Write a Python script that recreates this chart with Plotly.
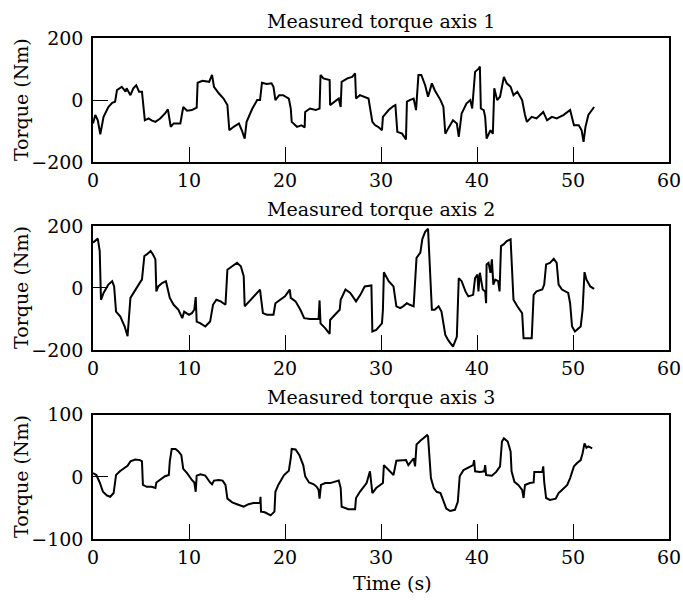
import plotly.graph_objects as go

# ---------------- data ----------------
t1 = [0, 0.24, 0.5, 0.76, 1.1, 1.6, 2.0, 2.3, 2.5, 2.85, 3.0, 3.4, 3.5, 3.9, 4.2, 4.5, 4.8, 5.1, 5.4, 5.8,
      6.1, 6.5, 7.0, 7.5, 7.8, 8.1, 8.4, 9.1, 9.3, 9.4, 9.8, 10.3, 10.8, 10.9, 11.4, 12.1, 12.4, 12.6, 13.1, 13.6,
      14.0, 14.2, 14.65, 15.2, 15.5, 15.8, 16.0, 16.6, 17.1, 17.4, 17.6, 18.1, 18.6, 18.8, 19.0, 19.4, 19.8, 20.4, 20.6, 20.7,
      21.25, 21.7, 22.05, 22.1, 22.6, 23.2, 23.6, 23.7, 24.0, 24.65, 24.7, 25.2, 25.6, 25.8, 25.9, 26.5, 27.0, 27.3, 27.4, 27.8,
      28.7, 29.1, 29.4, 29.7, 30.1, 30.2, 30.8, 31.3, 31.5, 31.7, 32.2, 32.6, 32.7, 33.0, 33.4, 33.65, 33.9, 34.2, 34.6, 34.9,
      35.3, 35.6, 36.2, 36.5, 36.7, 37.0, 37.5, 37.9, 38.1, 38.4, 38.9, 39.3, 39.5, 39.8, 40.2, 40.3, 40.4, 40.7, 40.85, 41.0,
      41.4, 41.65, 41.8, 42.1, 42.4, 42.8, 43.1, 43.5, 43.8, 44.2, 44.7, 45.0, 45.2, 45.7, 46.2, 46.9, 47.3, 47.8, 48.3, 49.0,
      49.7, 50.1, 50.6, 50.9, 51.1, 51.3, 51.6, 52.2]
v1 = [-75, -48, -65, -110, -54, -22, -9, -5, 32, 38, 43, 27, 38, 16, 38, 48, 27, 27, -65, -59,
      -65, -70, -59, -43, -30, -86, -75, -75, -43, -22, -34, -32, -24, 56, 62, 59, 81, 43, 22, 5,
      -16, -97, -86, -75, -97, -124, -70, -27, 0, 0, 56, 52, 54, 43, 0, 16, 16, 5, -27, -70,
      -86, -81, -88, -38, -27, -32, -27, 81, 70, 65, -16, -5, 5, -22, 59, 70, 75, 86, 5, 16,
      5, -70, -81, -86, -97, -54, -32, -19, -16, -102, -108, -127, -5, 0, 5, -32, 81, 81, 48, 11,
      54, 32, 0, -22, -108, -91, -65, -75, -118, -43, -11, 0, -27, 91, 102, 108, -27, -32, -54, -124,
      -97, -108, 38, 0, 11, 75, 54, 43, 16, 27, 0, -48, -70, -54, -59, -38, -65, -54, -59, -48,
      -32, -81, -81, -97, -134, -86, -48, -22]

t2 = [0, 0.24, 0.5, 0.7, 0.83, 1.1, 1.6, 2.0, 2.2, 2.4, 2.85, 3.3, 3.6, 3.9, 4.4, 4.9, 5.1, 5.35, 5.6, 6.0,
      6.25, 6.5, 6.6, 6.8, 7.2, 7.6, 8.0, 8.4, 8.9, 9.3, 9.5, 10.0, 10.3, 10.55, 10.7, 10.8, 11.2, 11.7, 12.2, 12.5,
      12.85, 13.3, 13.8, 14.0, 14.5, 15.0, 15.4, 15.7, 15.8, 16.4, 16.9, 17.4, 17.5, 17.7, 18.1, 18.8, 19.0, 19.5, 20.0, 20.5,
      20.6, 21.1, 21.6, 22.0, 22.6, 23.5, 23.6, 23.7, 24.2, 24.65, 24.7, 25.2, 25.7, 25.8, 26.3, 26.8, 27.4, 27.85, 28.3, 29.0,
      29.1, 29.5, 30.1, 30.2, 30.3, 30.8, 31.1, 31.3, 31.6, 32.0, 32.3, 32.7, 33.0, 33.4, 33.7, 34.1, 34.3, 34.6, 34.9, 35.1,
      35.3, 35.6, 36.0, 36.3, 36.7, 37.0, 37.5, 37.9, 38.1, 38.4, 38.8, 39.1, 39.6, 39.8, 40.05, 40.15, 40.3, 40.6, 40.85, 40.95,
      41.0, 41.2, 41.4, 41.55, 41.7, 41.9, 42.2, 42.35, 42.5, 42.8, 43.1, 43.5, 43.6, 43.8, 44.2, 44.7, 44.85, 45.2, 45.7, 45.9,
      46.2, 46.8, 47.0, 47.2, 47.6, 48.0, 48.3, 48.5, 48.85, 49.5, 49.7, 49.9, 50.2, 50.8, 51.0, 51.2, 51.4, 51.8, 52.2]
v2 = [146, 151, 159, 119, -38, -16, 11, 22, 5, -76, -92, -124, -155, -32, -5, 18, 27, 103, 108, 119,
      108, 92, -11, 5, 16, 22, -32, -54, -70, -97, -76, -86, -81, -70, -29, -108, -114, -124, -108, -54,
      -38, -43, -54, 59, 70, 81, 70, 38, -59, -38, -22, -5, -32, -81, -86, -86, -49, -38, -27, -5,
      -32, -43, -70, -97, -100, -100, -40, -114, -130, -148, -103, -86, -70, -38, -5, -16, -43, -22, 5, 8,
      -140, -135, -114, -70, 51, 22, 11, 5, -59, -65, -59, -49, -54, -59, 97, 114, 157, 181, 191, 59,
      -70, -70, -59, -76, -151, -168, -189, -157, 32, 22, -11, -27, -22, 32, 43, -11, 49, -5, -11, -49,
      76, 81, 49, 92, 11, 27, 22, -11, 135, 141, 151, 157, 92, -38, -59, -81, -162, -162, -162, -22,
      -11, -5, 11, 76, 81, 94, 81, 11, -5, -16, -49, -124, -140, -124, -70, 51, 27, 5, -3]

t3 = [0, 0.35, 0.7, 1.04, 1.46, 1.8, 2.15, 2.4, 2.8, 3.2, 3.6, 3.9, 4.4, 4.9, 5.1, 5.2, 5.6, 6.1, 6.5, 6.6,
      7.0, 7.5, 7.9, 8.0, 8.2, 8.6, 8.9, 9.2, 9.4, 9.8, 10.3, 10.55, 10.7, 10.8, 11.2, 11.7, 12.2, 12.4, 12.6, 13.1,
      13.5, 13.8, 14.0, 14.5, 15.0, 15.7, 16.2, 16.7, 17.4, 17.45, 17.5, 17.9, 18.5, 18.9, 19.0, 19.3, 19.9, 20.4, 20.6, 20.7,
      21.1, 21.5, 21.9, 22.1, 22.5, 23.0, 23.3, 23.5, 23.6, 23.75, 24.2, 24.7, 25.6, 25.8, 25.9, 26.6, 27.3, 27.4, 27.8, 28.5,
      28.85, 29.1, 29.5, 29.9, 30.2, 30.3, 30.8, 31.3, 31.6, 32.2, 32.6, 32.85, 33.2, 33.4, 33.55, 33.7, 34.1, 34.4, 34.8, 34.9,
      35.2, 35.5, 35.8, 36.2, 36.5, 36.8, 37.2, 37.7, 38.0, 38.2, 38.6, 39.3, 39.6, 39.7, 39.8, 40.3, 40.75, 40.85, 40.95, 41.55,
      42.0, 42.4, 42.6, 42.8, 43.2, 43.5, 43.6, 43.9, 44.3, 44.7, 44.85, 45.0, 45.5, 45.9, 45.97, 46.2, 46.8, 46.9, 47.0, 47.2,
      47.6, 48.2, 48.5, 48.85, 49.4, 49.7, 50.1, 50.4, 50.8, 51.0, 51.2, 51.4, 51.6, 52.0]
v3 = [6, 3, -9, -24, -30, -32, -26, 3, 9, 14, 18, 25, 28, 27, 25, -13, -16, -16, -18, -9,
      -5, 1, 3, 25, 45, 45, 41, 35, 13, 6, -5, -9, -24, 2, 4, 2, -9, -12, -6, -5,
      -6, -13, -35, -41, -44, -48, -44, -42, -42, -32, -56, -57, -62, -56, -24, -13, 3, 10, 30, 45,
      44, 35, 19, 1, -9, -12, -16, -21, -35, -13, -10, -10, -6, -18, -48, -52, -52, -34, -24, -10,
      9, -26, -18, -13, -10, 19, 11, 3, 26, 27, 27, 19, 27, 30, 17, 52, 58, 62, 67, 65,
      -2, -18, -24, -26, -37, -51, -55, -53, -40, 1, 11, 17, 19, 27, 9, 8, 9, 19, 3, 2,
      8, 17, 57, 62, 57, 41, 9, -8, -13, -21, -34, -13, -10, -9, 8, 8, 8, 17, -8, -34,
      -37, -35, -26, -21, -13, -2, 17, 22, 27, 38, 54, 47, 49, 46]

titles = ["Measured torque axis 1", "Measured torque axis 2", "Measured torque axis 3"]
y_title = "Torque (Nm)"
x_title = "Time (s)"
x_ticks = [0, 10, 20, 30, 40, 50, 60]
y_ranges = [[-200, 200], [-200, 200], [-100, 100]]
y_ticks = [[-200, 0, 200], [-200, 0, 200], [-100, 0, 100]]

series = [(t1, v1), (t2, v2), (t3, v3)]

# ---------------- layout geometry ----------------
W, H = 683, 600
ML, MR, MT, MB = 93, 14, 38, 61
PH = H - MT - MB
domains = [[0.752, 1.0], [0.377, 0.625], [0.0, 0.248]]
title_y_px = [21, 209, 397]

FONT = "DejaVu Serif"
FS = 19

fig = go.Figure()
for i, (t, v) in enumerate(series):
    sfx = "" if i == 0 else str(i + 1)
    fig.add_trace(go.Scatter(x=t, y=v, mode="lines",
                             line=dict(color="black", width=2),
                             xaxis="x" + sfx, yaxis="y" + sfx,
                             showlegend=False, hoverinfo="skip"))
    axcommon = dict(showline=True, mirror=True, linecolor="black", linewidth=1.5,
                    ticks="inside", ticklen=15, tickwidth=1.3, tickcolor="black",
                    showgrid=False, zeroline=False, automargin=False,
                    tickfont=dict(family=FONT, size=FS, color="black"))
    fig.update_layout(**{
        "xaxis" + sfx: dict(domain=[0, 1], range=[0, 60], tickvals=x_ticks,
                            anchor="y" + sfx, **axcommon),
        "yaxis" + sfx: dict(domain=domains[i], range=y_ranges[i], tickvals=y_ticks[i],
                            anchor="x" + sfx, ticklabelstandoff=4, **axcommon),
    })
    # panel title
    fig.add_annotation(text=titles[i], xref="paper", yref="paper", x=0.5,
                       y=(H - MB - title_y_px[i]) / PH, xanchor="center", yanchor="middle",
                       showarrow=False, font=dict(family=FONT, size=FS, color="black"))
    # y-axis title
    fig.add_annotation(text=y_title, xref="paper", yref="paper",
                       x=(21 - ML) / (W - ML - MR), y=(domains[i][0] + domains[i][1]) / 2,
                       xanchor="center", yanchor="middle", textangle=-90, showarrow=False,
                       font=dict(family=FONT, size=FS, color="black"))

fig.add_annotation(text=x_title, xref="paper", yref="paper", x=0.52,
                   y=(H - MB - 583) / PH, xanchor="center", yanchor="middle",
                   showarrow=False, font=dict(family=FONT, size=FS, color="black"))

fig.update_layout(width=W, height=H, margin=dict(l=ML, r=MR, t=MT, b=MB),
                  plot_bgcolor="white", paper_bgcolor="white",
                  font=dict(family=FONT, size=FS, color="black"))

fig.write_html("out.html", config={"displayModeBar": False},
               post_script="document.body.style.margin='0';document.body.style.padding='0';")
